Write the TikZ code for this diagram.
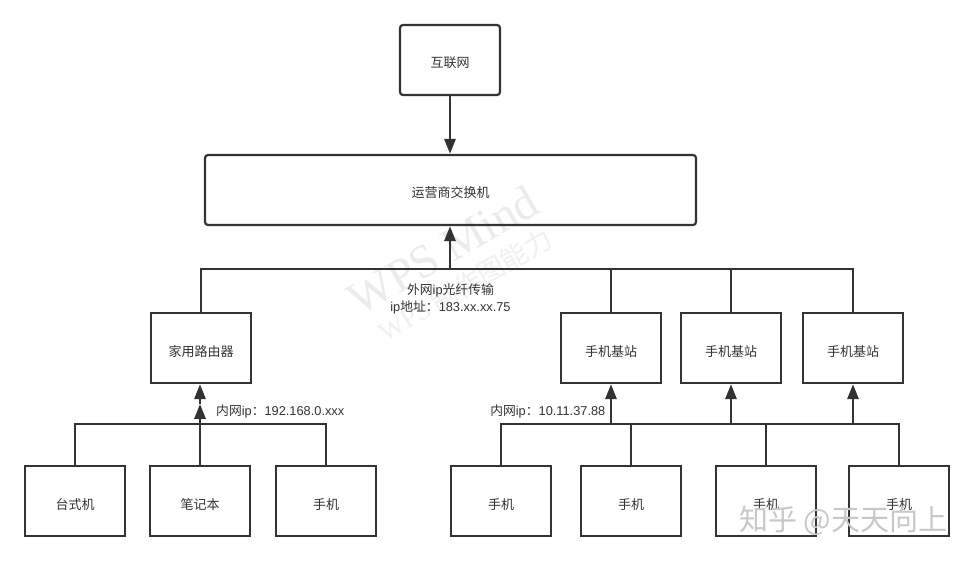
\documentclass[tikz,border=0pt]{standalone}
\usepackage{fontspec}
\setmainfont{Liberation Sans}
\newfontfamily\cjk{Noto Sans CJK SC}
\newfontfamily\wmserif{Liberation Serif}
\usetikzlibrary{arrows.meta}
\definecolor{ink}{HTML}{333333}
\definecolor{wm}{HTML}{EBEBEB}
\definecolor{wmlight}{HTML}{F0F0F0}
\definecolor{wmz}{HTML}{C8C8C8}
\tikzset{
  x=1pt,y=-1pt,
  box/.style={draw=ink,line width=2.2pt,minimum width=100pt,minimum height=70pt,inner sep=0pt,text=ink,text height=16pt,text depth=0pt,font=\cjk\fontsize{13}{15}\selectfont},
  rbox/.style={box,rounded corners=3pt},
  wire/.style={draw=ink,line width=2.2pt},
  arr/.style={draw=ink,line width=2.8pt,-{Triangle[length=15pt,width=11pt]}},
  note/.style={inner sep=0pt,align=center,text=ink,font=\fontsize{12.8}{17}\selectfont},
}
\begin{document}
\begin{tikzpicture}
\useasboundingbox (0,0) rectangle (974,561);
\fill[white] (0,0) rectangle (974,561);
% watermarks
\node[rotate=30,text=wm,font=\wmserif\fontsize{47}{47}\selectfont] (wmA) at (443,250) {WPS Mind};
\node[rotate=30,text=wmlight,font=\wmserif\fontsize{27}{27}\selectfont] (wmB) at (465,285) {WPS\,\cjk 制作图能力};
% boxes
\node[rbox] (net) at (450,60) {互联网};
\node[rbox,minimum width=491pt] (isp) at (450.5,190) {运营商交换机};
\node[box] (router) at (201,348) {家用路由器};
\node[box] (bs1) at (611,348) {手机基站};
\node[box] (bs2) at (731,348) {手机基站};
\node[box] (bs3) at (853,348) {手机基站};
\node[box] (pc) at (75,501) {台式机};
\node[box] (nb) at (200,501) {笔记本};
\node[box] (ph) at (326,501) {手机};
\node[box] (p1) at (501,501) {手机};
\node[box] (p2) at (631,501) {手机};
\node[box] (p3) at (766,501) {手机};
\node[box] (p4) at (899,501) {手机};
% junctions
\coordinate (jTop) at (450,269);
\coordinate (jL) at (611,424);
\coordinate (jM) at (731,424);
\coordinate (jR) at (853,424);
\coordinate (jA) at (200,424);
% connectors
\draw[arr] (net.south) -- (net.south |- isp.north);
\draw[arr] (jTop) -- (jTop |- isp.south);
\draw[wire] (router.north) |- (bs3.north |- jTop) -- (bs3.north);
\draw[wire] (bs1.north) -- (bs1.north |- jTop);
\draw[wire] (bs2.north) -- (bs2.north |- jTop);
\draw[wire] (pc.north) |- (ph.north |- jA) -- (ph.north);
\draw[arr] (nb.north) -- ++(0,-61) coordinate (nbTip);
\draw[arr] (nbTip) -- (nb.north |- router.south);
\draw[wire] (p1.north) |- (p4.north |- jL) -- (p4.north);
\draw[wire] (p2.north) -- (p2.north |- jL);
\draw[wire] (p3.north) -- (p3.north |- jL);
\draw[arr] (jL) -- (bs1.south);
\draw[arr] (jM) -- (bs2.south);
\draw[arr] (jR) -- (bs3.south);
% labels
\node[note] (lbTop) at (450.5,298.5) {{\cjk 外网}ip{\cjk 光纤传输}\\ip{\cjk 地址：}183.xx.xx.75};
\node[note,anchor=west] (lbA) at (216,411.5) {{\cjk 内网}ip{\cjk ：}192.168.0.xxx};
\node[note,anchor=east] (lbB) at (605.5,411.5) {{\cjk 内网}ip{\cjk ：}10.11.37.88};
% site mark
\node[text=wmz,anchor=west,inner sep=0pt,font=\cjk\fontsize{29}{29}\selectfont] (zh) at (739,521) {知乎 @天天向上};
\end{tikzpicture}
\end{document}
